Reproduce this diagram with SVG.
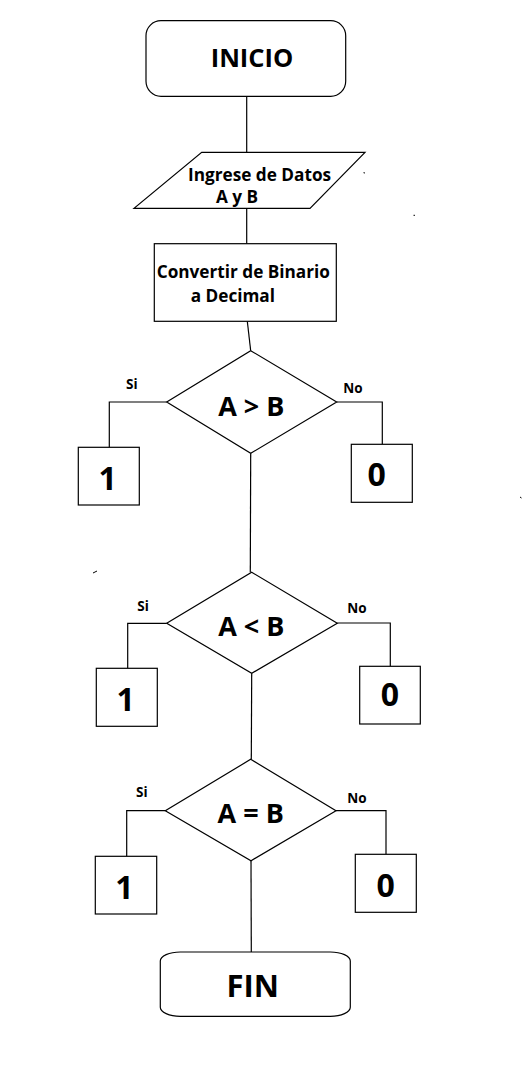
<svg xmlns="http://www.w3.org/2000/svg" width="529" height="1085" viewBox="0 0 529 1085">
<style>
.s{fill:#fff;stroke:#000;stroke-width:1.2}
.c{fill:none;stroke:#000;stroke-width:1.2}
text{font-family:"Open Sans","Noto Sans","DejaVu Sans",sans-serif;font-weight:bold;fill:#000}
.t16{font-size:17.2px}
.big{font-size:27px;text-anchor:middle}
.num{font-size:32px;text-anchor:middle}
.lbl{font-size:13.5px}
</style>
<rect width="529" height="1085" fill="#fff"/>
<g id="connectors">
<line class="c" x1="246.7" y1="96.3" x2="246.7" y2="152.3"/>
<line class="c" x1="246.7" y1="208.3" x2="246.7" y2="243.7"/>
<line class="c" x1="247.3" y1="321.3" x2="250.7" y2="350.7"/>
<polyline class="c" points="166.7,402 109.3,402 109.3,447.3"/>
<polyline class="c" points="336.7,402 382.3,402 382.3,444.3"/>
<line class="c" x1="250.7" y1="453.3" x2="250.3" y2="572.3"/>
<polyline class="c" points="166.7,623.3 127.7,623.3 127.7,668.3"/>
<polyline class="c" points="337.3,623 390.3,623 390.3,666.3"/>
<line class="c" x1="251.7" y1="673.3" x2="251.3" y2="759.3"/>
<polyline class="c" points="165.3,810.7 126.7,810.7 126.7,856.3"/>
<polyline class="c" points="336,810.7 386,810.7 386,854.3"/>
<line class="c" x1="251" y1="860.7" x2="251.3" y2="952"/>
</g>
<g id="inicio">
<rect class="s" x="146" y="20.7" width="199.7" height="75.6" rx="15" ry="15"/>
<text x="252" y="66.7" style="font-size:25.5px;text-anchor:middle">INICIO</text>
</g>
<g id="entrada">
<polygon class="s" points="201.7,152.3 365,152.3 310,208.3 134,208.3"/>
<text class="t16" x="188" y="181">Ingrese de Datos</text>
<text class="t16" x="216" y="202.5">A y B</text>
</g>
<g id="convertir">
<rect class="s" x="154.3" y="243.7" width="182" height="77.6"/>
<text class="t16" x="156.7" y="277.7">Convertir de Binario</text>
<text class="t16" x="190.7" y="302.3">a Decimal</text>
</g>
<g id="d1">
<polygon class="s" points="250.7,350.7 336.7,402 250.7,453.3 166.7,402"/>
<text class="big" x="251.3" y="416">A &gt; B</text>
<text class="lbl" x="126" y="389.3">Si</text>
<text class="lbl" x="343.3" y="392.7">No</text>
</g>
<g id="d1-si">
<rect class="s" x="78.3" y="447.3" width="61" height="57.7"/>
<text class="num" x="107.7" y="490">1</text>
</g>
<g id="d1-no">
<rect class="s" x="351.3" y="444.3" width="61" height="58"/>
<text class="num" x="376.7" y="486">0</text>
</g>
<g id="d2">
<polygon class="s" points="251.7,572.3 337.3,623.3 251.7,673.3 166.7,623.3"/>
<text class="big" x="251.3" y="636">A &lt; B</text>
<text class="lbl" x="137.3" y="610.7">Si</text>
<text class="lbl" x="347.3" y="613.3">No</text>
</g>
<g id="d2-si">
<rect class="s" x="96.3" y="668.3" width="61" height="58"/>
<text class="num" x="125.7" y="710.7">1</text>
</g>
<g id="d2-no">
<rect class="s" x="359.7" y="666.3" width="60.6" height="57.7"/>
<text class="num" x="390" y="706">0</text>
</g>
<g id="d3">
<polygon class="s" points="250.7,759.3 336,810.7 251,860.7 165.3,810.7"/>
<text class="big" x="250.7" y="823.3">A = B</text>
<text class="lbl" x="136" y="796.7">Si</text>
<text class="lbl" x="347.3" y="802.7">No</text>
</g>
<g id="d3-si">
<rect class="s" x="95.3" y="856.3" width="61.4" height="57.7"/>
<text class="num" x="124.3" y="899">1</text>
</g>
<g id="d3-no">
<rect class="s" x="355.3" y="854.3" width="61" height="58"/>
<text class="num" x="385.7" y="896.7">0</text>
</g>
<g id="fin">
<rect class="s" x="160.3" y="952" width="190" height="64.3" rx="20" ry="9"/>
<text x="252.7" y="997.3" style="font-size:31px;text-anchor:middle">FIN</text>
</g>
<g id="marks" stroke="#000" stroke-width="1">
<line x1="363.5" y1="172.7" x2="365" y2="173"/>
<line x1="413.5" y1="215.3" x2="415" y2="215.3"/>
<line x1="93" y1="573" x2="97" y2="571"/>
<line x1="520" y1="497" x2="521.5" y2="498"/>
</g>
</svg>
